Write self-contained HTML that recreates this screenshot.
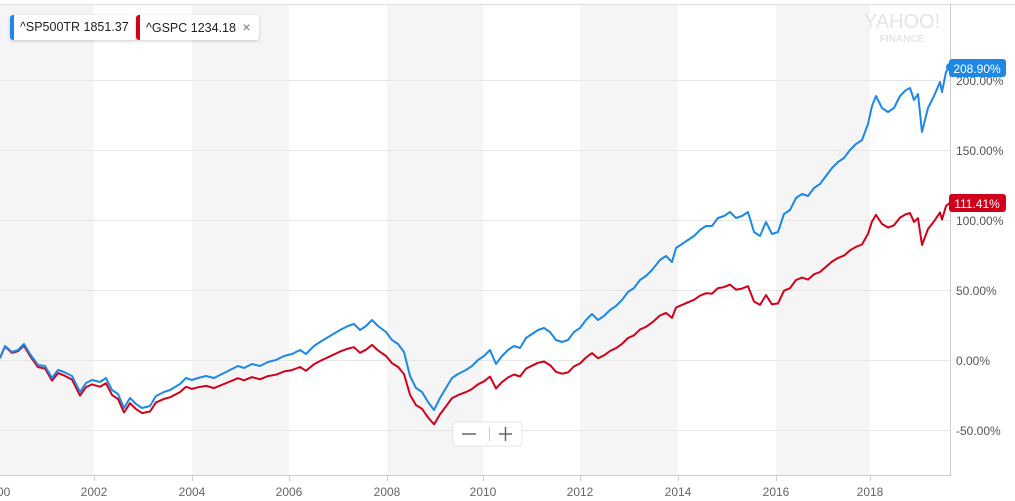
<!DOCTYPE html>
<html><head><style>
body{margin:0;width:1015px;height:501px;overflow:hidden;background:#fff;font-family:"Liberation Sans",sans-serif;}
svg{position:absolute;left:0;top:0}
.leg{position:absolute;top:15px;height:25px;background:#fff;border-radius:3px;box-shadow:0 1px 3px rgba(0,0,0,.2);font-size:12.5px;color:#222;line-height:25px;padding-left:10px;padding-right:8px;white-space:nowrap}
.leg:before{content:"";position:absolute;left:0;top:0;bottom:0;width:4px;border-radius:3px 0 0 3px}
.b:before{background:#1e88e5}.r:before{background:#d0021b}
</style></head><body>
<svg width="1015" height="501" font-family="Liberation Sans, sans-serif">
<rect x="0" y="4" width="94" height="471" fill="#f5f5f5"/>
<rect x="192" y="4" width="97" height="471" fill="#f5f5f5"/>
<rect x="387" y="4" width="96" height="471" fill="#f5f5f5"/>
<rect x="580" y="4" width="98" height="471" fill="#f5f5f5"/>
<rect x="776" y="4" width="94" height="471" fill="#f5f5f5"/>
<g stroke="#e6e6e6" stroke-width="1">
<line x1="0" x2="951" y1="80.5" y2="80.5"/><line x1="0" x2="951" y1="150.5" y2="150.5"/><line x1="0" x2="951" y1="220.5" y2="220.5"/><line x1="0" x2="951" y1="290.5" y2="290.5"/><line x1="0" x2="951" y1="360.5" y2="360.5"/><line x1="0" x2="951" y1="430.5" y2="430.5"/>
</g>
<line x1="0" x2="1015" y1="4.5" y2="4.5" stroke="#ddd"/>
<line x1="0" x2="951" y1="475.5" y2="475.5" stroke="#ccc"/>
<line x1="950.5" x2="950.5" y1="4" y2="475" stroke="#ccc"/>
<g stroke="#ccc"><line x1="94.5" x2="94.5" y1="475" y2="481"/><line x1="192.5" x2="192.5" y1="475" y2="481"/><line x1="289.5" x2="289.5" y1="475" y2="481"/><line x1="387.5" x2="387.5" y1="475" y2="481"/><line x1="483.5" x2="483.5" y1="475" y2="481"/><line x1="580.5" x2="580.5" y1="475" y2="481"/><line x1="678.5" x2="678.5" y1="475" y2="481"/><line x1="776.5" x2="776.5" y1="475" y2="481"/><line x1="870.5" x2="870.5" y1="475" y2="481"/></g>
<g fill="#666" font-size="12" text-anchor="middle">
<text x="-3" y="496">2000</text><text x="94" y="496">2002</text><text x="192" y="496">2004</text><text x="289" y="496">2006</text><text x="387" y="496">2008</text><text x="483" y="496">2010</text><text x="580" y="496">2012</text><text x="678" y="496">2014</text><text x="776" y="496">2016</text><text x="870" y="496">2018</text>
</g>
<g fill="#555" font-size="12">
<text x="956" y="85">200.00%</text><text x="956" y="155">150.00%</text><text x="956" y="225">100.00%</text><text x="956" y="295">50.00%</text><text x="956" y="365">0.00%</text><text x="956" y="435">-50.00%</text>
</g>
<text x="902" y="28" font-size="20" fill="#e4e4ea" text-anchor="middle">YAHOO!</text>
<text x="902" y="42" font-size="10" fill="#e4e4ea" text-anchor="middle" font-weight="bold">FINANCE</text>
<polyline id="red" fill="none" stroke="#d0021b" stroke-width="2" stroke-linejoin="round" points=""/>
<polyline id="blue" fill="none" stroke="#1e88e5" stroke-width="2" stroke-linejoin="round" points="0,358 5,346 12,352 18,350 24,344 30,354 38,365 45,366 52,378 58,370 64,372 72,376 80,392 86,383 92,380 100,382 106,378 112,390 118,394 124,408 130,398 136,404 142,408 150,406 156,396 164,392 170,390 180,384 186,378 192,380 198,378 206,376 214,378 222,374 230,370 238,366 244,368 252,364 260,366 268,362 276,360 284,356 292,354 300,350 306,354 314,346 320,342 330,336 340,330 348,326 354,324 360,330 366,326 372,320 378,326 386,332 392,340 398,344 404,352 410,376 416,388 422,392 428,402 434,410 440,398 446,388 452,378 458,374 466,370 472,366 478,360 484,356 490,350 496,364 502,356 508,350 514,346 520,348 526,338 532,334 538,330 544,328 550,332 556,340 562,342 568,340 574,332 580,328 586,320 592,314 598,320 604,316 610,310 616,306 622,300 628,292 634,288 640,280 646,276 652,270 660,260 666,256 672,262 676,248 682,244 688,240 694,236 700,230 706,226 712,226 718,218 724,216 730,212 736,218 742,216 748,212 754,232 760,236 766,222 772,234 778,232 784,214 790,210 796,198 802,194 808,196 814,188 820,184 826,176 832,168 838,162 844,158 850,150 856,144 862,140 868,124 872,106 876,96 882,108 888,112 894,108 900,96 906,90 910,88 914,100 918,94 922,132 928,108 934,96 940,82 942,92 946,72 949,67"/>
<circle cx="950" cy="67" r="4" fill="#1e88e5"/>
<rect x="949" y="59" width="57" height="18" rx="3" fill="#1e88e5"/>
<text x="977" y="73" fill="#fff" font-size="12" text-anchor="middle">208.90%</text>
<rect x="949" y="194" width="57" height="18" rx="3" fill="#d0021b"/>
<text x="977" y="208" fill="#fff" font-size="12" text-anchor="middle">111.41%</text>
<rect x="453" y="422" width="69" height="24" rx="3" fill="#fff" stroke="#e4e4e4"/>
<line x1="462" x2="476" y1="434" y2="434" stroke="#666" stroke-width="1.5"/>
<line x1="489.5" x2="489.5" y1="427" y2="441" stroke="#ccc"/>
<line x1="499" x2="512" y1="434" y2="434" stroke="#666" stroke-width="1.5"/>
<line x1="505.5" x2="505.5" y1="427" y2="441" stroke="#666" stroke-width="1.5"/>
</svg>
<div class="leg b" style="left:10px">^SP500TR 1851.37</div>
<div class="leg r" style="left:136px">^GSPC 1234.18 <span style="color:#777;font-size:14px;margin-left:3px">×</span></div>
<script>
var b=document.getElementById('blue').getAttribute('points').trim().split(/\s+/);
var out=[];
b.forEach(function(p){var a=p.split(',');var x=+a[0],y=+a[1];var r=(360-y)/140;var t=(x+3)/48.7;var rr=(1+r)/Math.pow(1.0195,t)-1;out.push(x+','+(360-rr*140).toFixed(1));});
document.getElementById('red').setAttribute('points',out.join(' '));
</script>
</body></html>
